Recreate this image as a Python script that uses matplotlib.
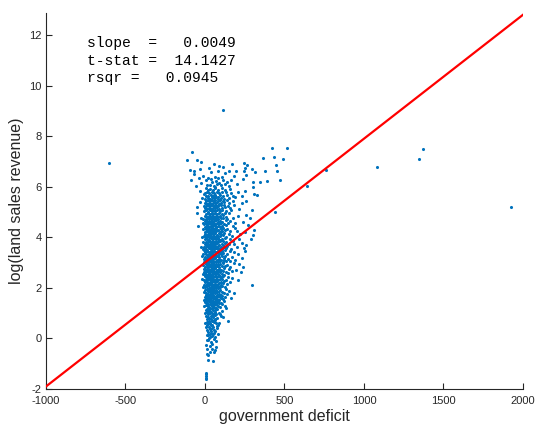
import numpy as np
import matplotlib
matplotlib.use('Agg')
import matplotlib.pyplot as plt

# regression results shown on the chart
slope = 0.0049
intercept = 3.0
stats_lines = ['slope  =   0.0049', 't-stat =  14.1427', 'rsqr =   0.0945']

# (government deficit, log land sales revenue), by band
pts_low = [(4, -1.42), (6, -1.48), (5, -1.55), (7, -1.60), (5, -1.38),
           (19, -0.87), (50, -0.90), (19, -0.67), (31, -0.55), (57, -0.52), (12, -0.62),
           (13, -0.41), (46, -0.41), (71, -0.34), (29, -0.29), (42, -0.21), (69, -0.12),
           (13, -0.05), (22, -0.08), (37, -0.15), (55, -0.03), (8, -0.25), (60, -0.45)]

pts_0 = [(33, 0.05), (52, 0.19), (58, 0.20), (13, 0.32), (33, 0.38), (20, 0.12), (45, 0.08),
         (66, 0.28), (27, 0.44), (40, 0.30), (10, 0.15), (74, 0.42), (48, 0.47), (18, 0.25),
         (62, 0.06), (36, 0.22), (24, 0.03), (55, 0.35), (8, 0.45), (42, 0.40), (30, 0.16), (80, 0.18),
         (143, 0.68), (86, 0.63), (72, 0.62), (58, 0.66), (10, 0.52), (22, 0.58), (35, 0.55),
         (47, 0.71), (15, 0.75), (28, 0.82), (40, 0.90), (52, 0.86), (64, 0.93), (78, 0.80),
         (92, 0.97), (5, 0.88), (18, 0.95), (33, 0.62), (45, 0.52), (60, 0.78), (25, 0.70),
         (70, 0.98), (38, 0.77), (12, 0.64), (55, 0.95), (82, 0.55), (30, 0.99), (48, 0.91),
         (66, 0.72), (20, 0.85), (2, 0.60), (42, 0.68), (100, 0.89), (75, 0.51), (115, 0.84)]

pts_1 = [(105, 1.10), (126, 1.30), (3, 1.02), (15, 1.05), (27, 1.08), (38, 1.03), (50, 1.12),
         (62, 1.06), (74, 1.15), (88, 1.01), (10, 1.18), (22, 1.22), (33, 1.15), (45, 1.20),
         (57, 1.25), (68, 1.19), (80, 1.28), (95, 1.24), (-4, 1.27), (8, 1.33), (19, 1.30),
         (30, 1.36), (41, 1.29), (53, 1.34), (64, 1.38), (76, 1.32), (90, 1.40), (110, 1.36),
         (2, 1.44), (14, 1.41), (25, 1.47), (36, 1.43), (48, 1.48), (59, 1.45), (70, 1.49),
         (84, 1.46), (99, 1.42), (118, 1.48), (5, 1.13), (17, 1.38), (28, 1.26), (39, 1.37),
         (52, 1.41), (63, 1.11), (72, 1.42), (46, 1.02), (34, 1.49), (24, 1.12), (12, 1.48), (135, 1.21),
         (182, 1.79), (136, 1.74), (-8, 1.52), (4, 1.55), (16, 1.51), (27, 1.56), (38, 1.53),
         (50, 1.58), (61, 1.54), (73, 1.57), (86, 1.52), (100, 1.59), (115, 1.55), (-2, 1.62),
         (10, 1.65), (21, 1.61), (32, 1.66), (44, 1.63), (55, 1.67), (67, 1.62), (79, 1.68),
         (93, 1.64), (108, 1.69), (125, 1.62), (6, 1.72), (18, 1.75), (29, 1.71), (40, 1.76),
         (52, 1.73), (63, 1.78), (75, 1.72), (88, 1.77), (103, 1.71), (120, 1.78), (-5, 1.83),
         (8, 1.81), (19, 1.86), (30, 1.82), (42, 1.87), (54, 1.84), (65, 1.88), (77, 1.83),
         (91, 1.86), (110, 1.82), (150, 1.88), (1, 1.93), (13, 1.96), (24, 1.92), (35, 1.97),
         (47, 1.94), (58, 1.99), (70, 1.93), (83, 1.98), (97, 1.92), (130, 1.95), (165, 1.60),
         (36, 1.59), (58, 1.91), (23, 1.68), (47, 1.79)]

pts_2 = [(294, 2.12), (-17, 2.36), (205, 2.30), (-10, 2.04), (2, 2.02), (13, 2.06), (24, 2.01),
         (35, 2.05), (46, 2.03), (57, 2.08), (68, 2.02), (80, 2.07), (93, 2.04), (108, 2.09),
         (125, 2.03), (-6, 2.13), (6, 2.11), (17, 2.15), (28, 2.12), (39, 2.16), (50, 2.13),
         (61, 2.17), (72, 2.11), (84, 2.16), (98, 2.12), (115, 2.18), (140, 2.14), (0, 2.22),
         (11, 2.24), (22, 2.21), (33, 2.25), (44, 2.22), (55, 2.26), (66, 2.23), (77, 2.27),
         (89, 2.21), (103, 2.25), (120, 2.28), (155, 2.24), (-8, 2.31), (4, 2.33), (15, 2.30),
         (26, 2.34), (37, 2.31), (48, 2.35), (59, 2.32), (70, 2.36), (82, 2.30), (95, 2.34),
         (110, 2.37), (132, 2.32), (8, 2.42), (19, 2.45), (30, 2.41), (41, 2.46), (52, 2.43),
         (63, 2.47), (74, 2.42), (86, 2.46), (100, 2.41), (116, 2.48), (145, 2.44), (170, 2.40),
         (1, 2.47), (35, 2.38), (57, 2.29), (25, 2.19), (45, 2.44), (68, 2.48), (12, 2.38),
         (241, 2.82), (215, 2.95), (225, 2.62), (-15, 2.55), (-3, 2.52), (9, 2.56), (20, 2.51),
         (31, 2.55), (42, 2.52), (53, 2.57), (64, 2.53), (76, 2.58), (89, 2.51), (104, 2.56),
         (121, 2.52), (145, 2.57), (-9, 2.63), (3, 2.61), (14, 2.65), (25, 2.62), (36, 2.66),
         (47, 2.63), (58, 2.67), (69, 2.61), (81, 2.66), (95, 2.62), (112, 2.68), (135, 2.64),
         (168, 2.66), (-5, 2.73), (7, 2.72), (18, 2.75), (29, 2.71), (40, 2.76), (51, 2.73),
         (62, 2.77), (73, 2.71), (86, 2.76), (100, 2.72), (118, 2.78), (150, 2.74), (0, 2.82),
         (11, 2.84), (22, 2.81), (33, 2.85), (44, 2.82), (55, 2.86), (66, 2.83), (78, 2.87),
         (91, 2.81), (106, 2.85), (126, 2.88), (160, 2.83), (-12, 2.91), (4, 2.93), (15, 2.90),
         (26, 2.94), (37, 2.91), (48, 2.95), (59, 2.92), (70, 2.96), (82, 2.90), (96, 2.94),
         (113, 2.97), (138, 2.92), (185, 2.98), (28, 2.58), (49, 2.69), (60, 2.79), (17, 2.97),
         (39, 2.88), (80, 2.55), (195, 2.70)]

pts_3 = [(-20, 3.28), (-8, 3.02), (4, 3.05), (15, 3.01), (26, 3.06), (37, 3.03), (48, 3.07),
         (59, 3.02), (70, 3.06), (82, 3.04), (96, 3.08), (112, 3.03), (132, 3.07), (160, 3.05),
         (-4, 3.13), (8, 3.11), (19, 3.15), (30, 3.12), (41, 3.16), (52, 3.13), (63, 3.17),
         (74, 3.11), (86, 3.16), (100, 3.12), (118, 3.18), (145, 3.14), (190, 3.12), (0, 3.22),
         (11, 3.24), (22, 3.21), (33, 3.25), (44, 3.22), (55, 3.26), (66, 3.23), (78, 3.27),
         (91, 3.21), (106, 3.25), (125, 3.28), (170, 3.24), (230, 3.20), (-12, 3.32), (6, 3.33),
         (17, 3.30), (28, 3.34), (39, 3.31), (50, 3.35), (61, 3.32), (72, 3.36), (84, 3.30),
         (98, 3.34), (115, 3.37), (140, 3.32), (210, 3.35), (2, 3.42), (13, 3.45), (24, 3.41),
         (35, 3.46), (46, 3.43), (57, 3.47), (68, 3.42), (80, 3.46), (93, 3.41), (108, 3.45),
         (128, 3.48), (155, 3.44), (250, 3.46), (-6, 3.48), (31, 3.38), (53, 3.19), (20, 3.09),
         (42, 3.44), (65, 3.29), (88, 3.39), (10, 3.18), (47, 3.01), (180, 3.40), (120, 3.10),
         (289, 3.95), (-25, 3.62), (-10, 3.52), (2, 3.55), (13, 3.51), (24, 3.56), (35, 3.53),
         (46, 3.57), (57, 3.52), (68, 3.56), (80, 3.54), (94, 3.58), (110, 3.53), (130, 3.57),
         (165, 3.55), (-5, 3.63), (7, 3.61), (18, 3.65), (29, 3.62), (40, 3.66), (51, 3.63),
         (62, 3.67), (73, 3.61), (85, 3.66), (99, 3.62), (116, 3.68), (140, 3.64), (200, 3.60),
         (0, 3.72), (11, 3.74), (22, 3.71), (33, 3.75), (44, 3.72), (55, 3.76), (66, 3.73),
         (78, 3.77), (91, 3.71), (106, 3.75), (124, 3.78), (150, 3.74), (230, 3.79), (-15, 3.82),
         (5, 3.83), (16, 3.80), (27, 3.84), (38, 3.81), (49, 3.85), (60, 3.82), (71, 3.86),
         (83, 3.80), (97, 3.84), (113, 3.87), (135, 3.82), (175, 3.86), (260, 3.70), (3, 3.92),
         (14, 3.95), (25, 3.91), (36, 3.96), (47, 3.93), (58, 3.97), (69, 3.92), (81, 3.96),
         (94, 3.91), (109, 3.95), (128, 3.98), (158, 3.94), (215, 3.93), (31, 3.59), (53, 3.69),
         (20, 3.88), (42, 3.79), (65, 3.99), (88, 3.89), (9, 3.68), (120, 3.60), (185, 3.72), (245, 3.56)]

pts_4 = [(308, 4.27), (304, 4.10), (-42, 4.43), (-21, 4.02), (-8, 4.05), (4, 4.02), (15, 4.06),
         (26, 4.01), (37, 4.05), (48, 4.03), (59, 4.07), (70, 4.02), (82, 4.06), (96, 4.04),
         (112, 4.08), (134, 4.03), (170, 4.07), (-3, 4.13), (9, 4.11), (20, 4.15), (31, 4.12),
         (42, 4.16), (53, 4.13), (64, 4.17), (75, 4.11), (88, 4.16), (102, 4.12), (120, 4.18),
         (148, 4.14), (220, 4.12), (1, 4.22), (12, 4.24), (23, 4.21), (34, 4.25), (45, 4.22),
         (56, 4.26), (67, 4.23), (79, 4.27), (92, 4.21), (108, 4.25), (128, 4.28), (160, 4.24),
         (250, 4.20), (-12, 4.32), (6, 4.33), (17, 4.30), (28, 4.34), (39, 4.31), (50, 4.35),
         (61, 4.32), (72, 4.36), (85, 4.30), (99, 4.34), (116, 4.37), (140, 4.32), (190, 4.36),
         (3, 4.42), (14, 4.45), (25, 4.41), (36, 4.46), (47, 4.43), (58, 4.47), (69, 4.42),
         (81, 4.46), (94, 4.41), (110, 4.45), (130, 4.48), (175, 4.44), (270, 4.47), (31, 4.08),
         (53, 4.19), (20, 4.38), (42, 4.29), (65, 4.49), (10, 4.49), (200, 4.25),
         (283, 4.76), (-23, 4.77), (-50, 4.97), (-5, 4.52), (7, 4.55), (18, 4.51), (29, 4.56),
         (40, 4.53), (51, 4.57), (62, 4.52), (74, 4.56), (87, 4.54), (102, 4.58), (120, 4.53),
         (145, 4.57), (190, 4.55), (0, 4.63), (12, 4.61), (23, 4.65), (34, 4.62), (45, 4.66),
         (56, 4.63), (67, 4.67), (79, 4.61), (93, 4.66), (109, 4.62), (130, 4.68), (160, 4.64),
         (240, 4.62), (-10, 4.72), (4, 4.74), (15, 4.71), (26, 4.75), (37, 4.72), (48, 4.76),
         (59, 4.73), (71, 4.77), (84, 4.71), (99, 4.75), (116, 4.78), (138, 4.73), (175, 4.76),
         (2, 4.83), (13, 4.80), (24, 4.84), (35, 4.81), (46, 4.85), (57, 4.82), (68, 4.86),
         (81, 4.80), (95, 4.84), (112, 4.87), (135, 4.82), (205, 4.85), (8, 4.92), (19, 4.95),
         (30, 4.91), (41, 4.96), (52, 4.93), (63, 4.97), (76, 4.92), (90, 4.96), (106, 4.91),
         (125, 4.95), (152, 4.98), (260, 4.90), (-15, 4.58)]

pts_5 = [(294, 5.06), (442, 5.00), (-48, 5.19), (-31, 5.38), (-8, 5.03), (5, 5.06), (17, 5.02),
         (29, 5.07), (41, 5.04), (53, 5.08), (65, 5.03), (78, 5.07), (93, 5.05), (110, 5.09),
         (132, 5.04), (165, 5.08), (2, 5.14), (14, 5.12), (26, 5.16), (38, 5.13), (50, 5.17),
         (62, 5.14), (75, 5.18), (89, 5.12), (105, 5.16), (125, 5.19), (155, 5.15), (215, 5.13),
         (-5, 5.24), (9, 5.22), (21, 5.26), (33, 5.23), (45, 5.27), (57, 5.24), (70, 5.28),
         (84, 5.22), (100, 5.26), (118, 5.29), (145, 5.25), (185, 5.27), (0, 5.35), (12, 5.32),
         (24, 5.36), (36, 5.33), (48, 5.37), (60, 5.34), (73, 5.38), (87, 5.32), (103, 5.36),
         (122, 5.39), (150, 5.34), (230, 5.37), (6, 5.44), (18, 5.47), (30, 5.43), (42, 5.48),
         (54, 5.45), (66, 5.49), (80, 5.44), (96, 5.48), (115, 5.43), (140, 5.47), (175, 5.42),
         (260, 5.45),
         (-34, 5.82), (-8, 5.72), (310, 5.72), (329, 5.68), (-20, 5.55), (3, 5.53), (16, 5.57),
         (29, 5.52), (42, 5.58), (56, 5.54), (70, 5.59), (85, 5.53), (102, 5.57), (122, 5.52),
         (148, 5.56), (190, 5.58), (8, 5.64), (22, 5.62), (36, 5.66), (50, 5.63), (64, 5.67),
         (79, 5.61), (95, 5.66), (115, 5.62), (140, 5.68), (175, 5.64), (235, 5.63), (0, 5.75),
         (14, 5.78), (28, 5.74), (43, 5.79), (58, 5.76), (74, 5.80), (90, 5.74), (110, 5.78),
         (135, 5.81), (165, 5.77), (210, 5.79), (19, 5.88), (34, 5.91), (49, 5.87), (66, 5.93),
         (83, 5.89), (104, 5.94), (128, 5.88), (158, 5.92), (250, 5.85), (5, 5.96), (60, 5.98)]

pts_6 = [(300, 6.00), (-55, 6.03), (-88, 6.27), (304, 6.18), (346, 6.20), (388, 6.23), (474, 6.27),
         (-14, 6.43), (21, 6.35), (180, 6.43), (237, 6.31), (10, 6.05), (32, 6.08), (55, 6.02),
         (78, 6.10), (100, 6.06), (125, 6.12), (150, 6.04), (200, 6.09), (45, 6.18), (68, 6.22),
         (90, 6.15), (115, 6.25), (140, 6.20), (165, 6.28), (-25, 6.15), (5, 6.25), (35, 6.30),
         (60, 6.38), (85, 6.33), (110, 6.40), (260, 6.45), (-40, 6.35),
         (-94, 6.67), (-69, 6.61), (-69, 6.51), (-31, 6.72), (25, 6.75), (88, 6.82), (115, 6.79),
         (84, 6.63), (36, 6.60), (126, 6.53), (151, 6.61), (195, 6.61), (243, 6.93), (266, 6.85),
         (254, 6.73), (245, 6.63), (298, 6.70), (312, 6.57), (375, 6.64), (445, 6.84), (453, 6.64),
         (-25, 6.96), (55, 6.90), (170, 6.88),
         (-115, 7.04), (-50, 7.04), (-84, 7.39), (367, 7.14), (434, 7.19), (489, 7.10),
         (423, 7.54), (516, 7.52)]

pts_far = [(-602, 6.92), (111, 9.05), (642, 6.03), (761, 6.67), (1084, 6.79),
           (1346, 7.11), (1371, 7.48), (1923, 5.20)]

pts = np.array(pts_low + pts_0 + pts_1 + pts_2 + pts_3 + pts_4 + pts_5 + pts_6 + pts_far)
deficit = pts[:, 0]
log_rev = pts[:, 1]

plt.rcParams['font.family'] = ['Liberation Sans', 'DejaVu Sans']
plt.rcParams['axes.unicode_minus'] = False
fig = plt.figure(figsize=(5.36, 4.28), dpi=100)
ax = fig.add_axes([0.0858, 0.0911, 0.8899, 0.8785])

ax.scatter(deficit, log_rev, s=5, marker='o', color='#0072BD', linewidths=0, zorder=2)

xfit = np.array([-1000, 2000])
ax.plot(xfit, intercept + slope * xfit, color='red', lw=1.6, zorder=3)

ax.text(-742, 11.95, '\n'.join(stats_lines), family='Liberation Mono', fontsize=10.5,
        va='top', ha='left', linespacing=1.3, color='black')

ax.set_xlim(-1000, 2000)
ax.set_ylim(-2, 12.87)
ax.set_xticks(np.arange(-1000, 2001, 500))
ax.set_yticks(np.arange(-2, 13, 2))
for s in ['top', 'right']:
    ax.spines[s].set_visible(False)
for s in ['left', 'bottom']:
    ax.spines[s].set_color('#262626')
    ax.spines[s].set_linewidth(0.8)
ax.tick_params(direction='in', length=4, width=0.8, colors='#262626', labelsize=8, pad=3)
ax.tick_params(axis='x', pad=5)
ax.set_xlabel('government deficit', fontsize=11.5, color='#262626', labelpad=2)
ax.set_ylabel('log(land sales revenue)', fontsize=11.5, color='#262626', labelpad=4)

fig.savefig('out.png', dpi=100)
